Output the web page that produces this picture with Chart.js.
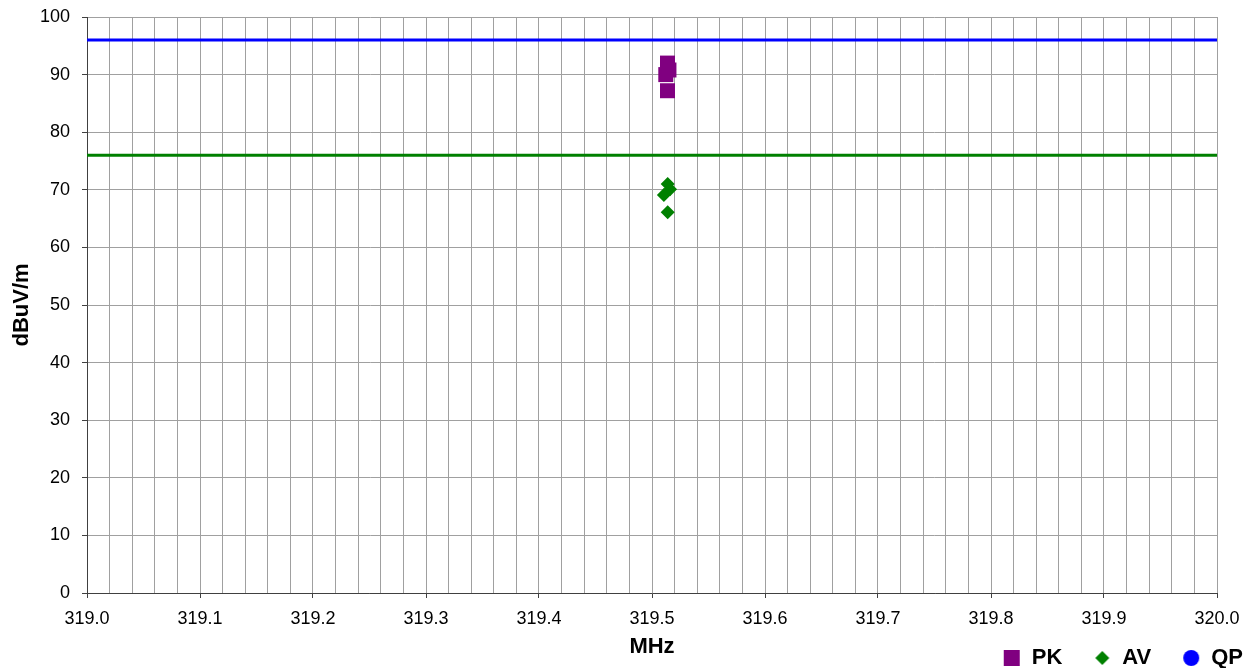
<!DOCTYPE html>
<html>
<head>
<meta charset="utf-8">
<title>Emission scan 319 - 320 MHz</title>
<script src="https://cdn.jsdelivr.net/npm/chart.js@4.4.1/dist/chart.umd.min.js"></script>
<style>
  body { margin: 0; background: #fff; }
  #wrap { width: 1246px; height: 668px; }
</style>
</head>
<body>
<div id="wrap"><canvas id="scan" width="1246" height="668"></canvas></div>
<script>
// measured peaks (MHz / dBuV/m)
const pkFreq = [319.5137, 319.515, 319.5122, 319.5137];
const pkLevel = [92.0, 90.8, 90.0, 87.2];
const avFreq = [319.5139, 319.516, 319.5105, 319.5139];
const avLevel = [71.0, 70.1, 69.1, 66.1];
const qpFreq = [];
const qpLevel = [];

// limit lines
const limitFreq = [319.0, 320.0];
const qpLimit = [96, 96];
const avLimit = [76, 76];

// axes
const freqMin = 319.0;
const freqMax = 320.0;
const freqGrid = 0.02;
const levelMin = 0;
const levelMax = 100;
const levelStep = 10;

const legendNames = ["PK", "AV", "QP"];
const PURPLE = "#800080";
const GREEN = "#008000";
const BLUE = "#0000ff";

const toPoints = (xs, ys) => xs.map((x, i) => ({ x, y: ys[i] }));

// label every 0.1 MHz, plain grid line in between
const isMajor = (v) => Math.abs(v * 10 - Math.round(v * 10)) < 1e-6;

// legend markers: 29px wide canvas, 16px shape drawn at x 12..28
const ICON_W = 29;
function legendIcon(shape, color) {
  const c = document.createElement("canvas");
  c.width = ICON_W;
  c.height = 16;
  const g = c.getContext("2d");
  g.fillStyle = color;
  g.translate(12, 0);
  g.beginPath();
  if (shape === "square") {
    g.rect(0, 0, 16, 16);
  } else if (shape === "diamond") {
    g.moveTo(8, 1);
    g.lineTo(15, 8);
    g.lineTo(8, 15);
    g.lineTo(1, 8);
    g.closePath();
  } else {
    g.arc(8, 8, 8, 0, Math.PI * 2);
  }
  g.fill();
  return c;
}
const icons = [legendIcon("square", PURPLE), legendIcon("diamond", GREEN), legendIcon("circle", BLUE)];
const iconColors = [PURPLE, GREEN, BLUE];

Chart.defaults.font.family = "'Liberation Sans', Arial, sans-serif";
Chart.defaults.font.size = 18;
Chart.defaults.color = "#000";

new Chart(document.getElementById("scan"), {
  type: "scatter",
  data: {
    datasets: [
      {
        label: "PK",
        data: toPoints(pkFreq, pkLevel),
        pointStyle: "rect",
        pointRadius: 10.6,
        pointBorderWidth: 0,
        backgroundColor: PURPLE,
        borderColor: PURPLE,
      },
      {
        label: "AV",
        data: toPoints(avFreq, avLevel),
        pointStyle: "rectRot",
        pointRadius: 7,
        pointBorderWidth: 0,
        backgroundColor: GREEN,
        borderColor: GREEN,
      },
      {
        label: "QP",
        data: toPoints(qpFreq, qpLevel),
        pointStyle: "circle",
        pointRadius: 8,
        backgroundColor: BLUE,
        borderColor: BLUE,
      },
      {
        label: "QP limit",
        data: toPoints(limitFreq, qpLimit),
        showLine: true,
        pointRadius: 0,
        borderWidth: 3,
        borderColor: BLUE,
      },
      {
        label: "AV limit",
        data: toPoints(limitFreq, avLimit),
        showLine: true,
        pointRadius: 0,
        borderWidth: 3,
        borderColor: GREEN,
      },
    ],
  },
  options: {
    responsive: false,
    animation: false,
    layout: { padding: { left: 0, right: -17, top: 17, bottom: -11 } },
    plugins: {
      tooltip: { enabled: false },
      legend: {
        position: "bottom",
        align: "end",
        labels: {
          usePointStyle: true,
          pointStyleWidth: ICON_W,
          boxHeight: 16,
          padding: 20,
          font: { size: 22, weight: "bold" },
          generateLabels: () =>
            legendNames.map((name, i) => ({
              text: name,
              pointStyle: icons[i],
              fillStyle: iconColors[i],
              strokeStyle: iconColors[i],
              lineWidth: 0,
              hidden: false,
              datasetIndex: i,
            })),
        },
      },
    },
    scales: {
      x: {
        type: "linear",
        min: freqMin,
        max: freqMax,
        afterFit: (scale) => {
          scale.height = 34;
          scale.paddingRight = 29;
        },
        ticks: {
          stepSize: freqGrid,
          autoSkip: false,
          maxRotation: 0,
          padding: 10,
          callback: (v) => (isMajor(v) ? v.toFixed(1) : ""),
        },
        grid: {
          color: "#a0a0a0",
          tickLength: 5,
          tickColor: (ctx) => (ctx.tick && isMajor(ctx.tick.value) ? "#404040" : "rgba(0,0,0,0)"),
        },
        border: { color: "#404040", width: 1 },
        title: {
          display: true,
          text: "MHz",
          font: { size: 22, weight: "bold" },
          padding: { top: 0, bottom: -33 },
        },
      },
      y: {
        min: levelMin,
        max: levelMax,
        afterFit: (scale) => {
          scale.width = 87;
          scale.paddingTop = 0;
          scale.paddingBottom = 0;
        },
        ticks: { stepSize: levelStep, padding: 12 },
        grid: { color: "#a0a0a0", tickLength: 5, tickColor: "#404040" },
        border: { color: "#404040", width: 1 },
        title: {
          display: true,
          text: "dBuV/m",
          font: { size: 22, weight: "bold" },
          padding: { top: 9, bottom: 0 },
        },
      },
    },
  },
});
</script>
</body>
</html>
